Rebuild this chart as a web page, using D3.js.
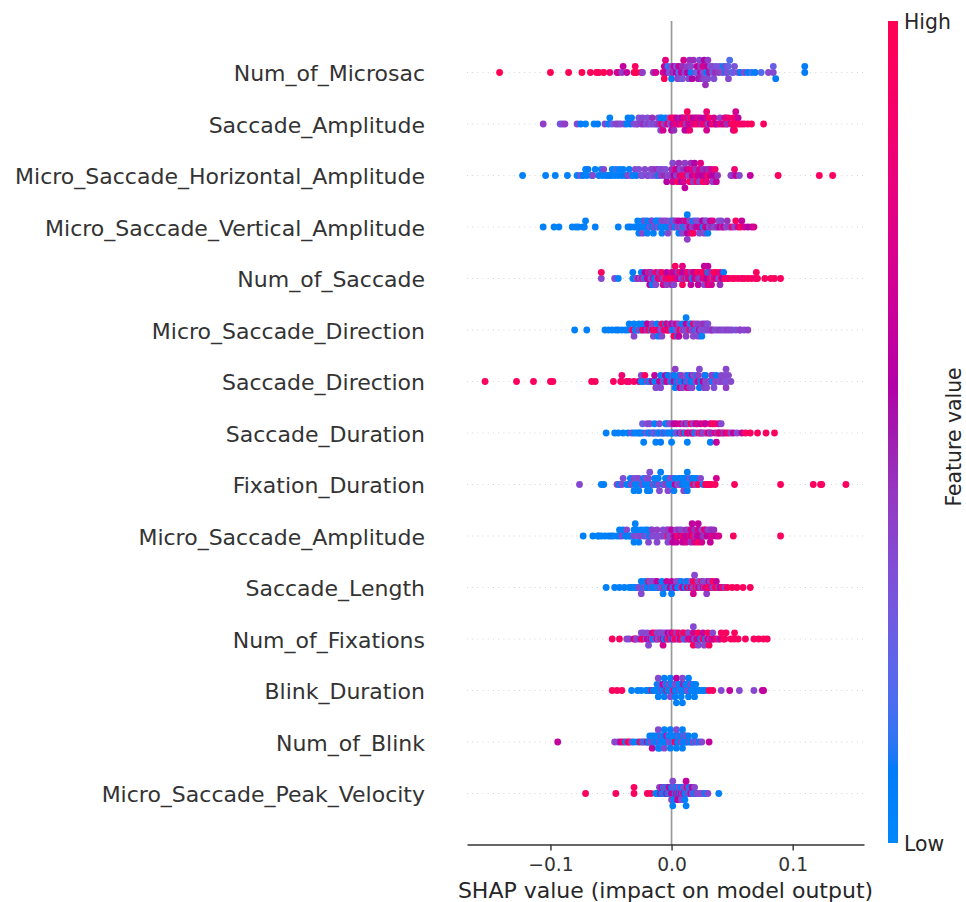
<!DOCTYPE html>
<html>
<head>
<meta charset="utf-8">
<script src="https://cdn.jsdelivr.net/npm/d3@7"></script>
<style>
  html, body { margin: 0; padding: 0; background: #fff; }
  svg { display: block; font-family: "DejaVu Sans", sans-serif; }
</style>
</head>
<body>
<svg id="chart" width="966" height="902"></svg>
<script>
// Features, most important first. Each sample is [SHAP value, normalised feature value 0..1].
const features = [
  "Num_of_Microsac", "Saccade_Amplitude", "Micro_Saccade_Horizontal_Amplitude",
  "Micro_Saccade_Vertical_Amplitude", "Num_of_Saccade", "Micro_Saccade_Direction",
  "Saccade_Direction", "Saccade_Duration", "Fixation_Duration", "Micro_Saccade_Amplitude",
  "Saccade_Length", "Num_of_Fixations", "Blink_Duration", "Num_of_Blink",
  "Micro_Saccade_Peak_Velocity"
];

const numOfMicrosac = [
  [-.142,1],[-.100,1],[-.085,1],[-.074,1],[-.067,.95],[-.062,1],[-.060,.95],[-.056,1],[-.051,.85],[-.045,.62],
  [-.044,.7],[-.041,.4],[-.040,.62],[-.037,.62],[-.031,1],[-.030,.95],[-.029,1],[-.025,.95],[-.024,.4],[-.015,.45],
  [-.013,.7],[-.007,.7],[-.006,.62],[-.006,.95],[-.005,.78],[-.004,.56],[-.003,.12],[-.002,.33],
  [.000,.36],[.000,.08],[.001,.45],[.002,.62],[.004,.56],[.004,.3],[.005,.4],[.006,.2],[.006,.62],[.007,.36],
  [.008,.62],[.009,.45],[.009,.3],[.010,.7],[.011,.36],[.013,.56],[.013,.4],[.014,.36],[.015,.45],[.016,.05],
  [.016,.36],[.017,.56],[.018,.45],[.020,.36],[.021,.25],[.021,.62],[.022,.5],[.023,.36],[.024,.62],[.024,.4],
  [.025,.45],[.026,.33],[.026,.7],[.027,.36],[.027,.56],[.028,.45],[.029,.05],[.029,.62],[.030,.36],[.030,.4],
  [.031,.5],[.032,.3],[.034,.28],[.034,.36],[.035,.33],[.036,.45],[.037,.3],[.039,.4],[.040,.3],[.042,.36],
  [.043,.05],[.045,.08],[.045,.36],[.046,.33],[.047,.25],[.047,.36],[.048,.18],[.050,.15],[.051,.28],[.052,.3],
  [.055,.33],[.057,.08],[.060,.36],[.063,.08],[.066,.12],[.069,.08],[.074,.18],[.080,.36],[.084,.36],[.084,.25],
  [.086,.08],[.110,.08],[.110,.08]
];

const saccadeAmplitude = [
  [-.106,.4],[-.092,.28],[-.090,.36],[-.088,.4],[-.078,.36],[-.075,.08],[-.071,.05],[-.064,.05],[-.061,.08],[-.055,.36],
  [-.052,.05],[-.051,.05],[-.049,.25],[-.046,.36],[-.044,.4],[-.042,.33],[-.039,.36],[-.037,.05],[-.036,.05],[-.034,.08],
  [-.033,.05],[-.031,.36],[-.029,.3],
  [-.028,.36],[-.027,.33],[-.025,.4],[-.024,.36],[-.023,.45],[-.021,.3],[-.020,.33],[-.019,.4],[-.017,.3],[-.016,.45],
  [-.015,.36],[-.013,.28],[-.012,.4],[-.011,.36],[-.010,.45],[-.009,.05],[-.009,.36],[-.008,.95],[-.008,.08],[-.007,.7],
  [-.006,.36],[-.005,.05],[-.004,.45],[-.003,.78],[-.002,.36],[-.001,.33],
  [.000,.95],[.000,.56],[.001,.62],[.002,.95],[.002,.45],[.003,.7],[.004,.62],[.005,.85],[.006,.7],[.007,.5],
  [.008,.78],[.009,.56],[.010,.95],[.010,.7],[.011,.62],[.012,.4],[.012,.78],[.013,.56],[.013,.95],[.014,.7],
  [.015,.45],[.015,.85],[.016,.62],[.016,.95],[.017,.7],[.018,.56],[.019,.78],[.020,.62],[.021,.95],[.022,.7],
  [.023,.85],[.024,.62],[.025,.45],[.026,.78],[.027,.56],[.028,.95],[.028,.62],[.029,.7],[.029,.85],[.030,.4],
  [.031,.95],[.032,.62],[.034,.85],[.035,.7],[.036,.95],[.037,.56],[.039,.7],[.040,.4],[.041,.85],[.043,.56],
  [.044,.78],[.045,.95],[.045,.7],[.046,.45],[.047,.85],[.049,.7],[.050,.95],[.051,.95],[.051,.62],[.052,.95],
  [.052,.85],[.052,.95],[.053,.7],[.054,.95],[.055,.62],[.056,.95],
  [.058,.95],[.060,.85],[.063,.95],[.066,.95],[.076,.95]
];

const microSaccadeHorizontalAmplitude = [
  [-.123,.05],[-.104,.05],[-.096,.05],[-.086,.05],[-.078,.05],[-.075,.33],[-.073,.08],[-.071,.05],[-.070,.05],[-.069,.08],
  [-.066,.05],[-.065,.36],[-.063,.05],[-.060,.08],[-.058,.05],[-.057,.05],[-.056,.36],[-.054,.08],[-.052,.05],[-.050,.08],
  [-.049,.05],[-.047,.05],[-.046,.12],[-.044,.05],[-.043,.05],[-.041,.08],[-.040,.05],[-.038,.08],[-.036,.36],[-.035,.05],
  [-.033,.33],[-.032,.05],[-.030,.36],[-.029,.08],[-.027,.33],[-.025,.36],[-.024,.3],
  [-.022,.36],[-.020,.4],[-.019,.33],[-.017,.36],[-.016,.3],[-.015,.4],[-.013,.36],[-.012,.45],[-.011,.05],[-.010,.33],
  [-.009,.4],[-.008,.36],[-.006,.45],[-.005,.33],[-.004,.56],[-.003,.36],[-.001,.4],
  [.000,.45],[.001,.7],[.001,.36],[.002,.56],[.003,.85],[.004,.4],[.004,.62],[.005,.95],[.006,.45],[.007,.7],
  [.007,.36],[.008,.56],[.009,.95],[.010,.45],[.010,.7],[.011,.4],[.011,.62],[.012,.85],[.013,.56],[.014,.36],
  [.014,.7],[.015,.95],[.016,.45],[.017,.62],[.017,.78],[.018,.4],[.019,.56],[.020,.85],[.020,.45],[.021,.95],
  [.022,.62],[.023,.7],[.023,.36],[.024,.78],[.025,.56],[.026,.45],[.026,.95],[.027,.62],[.029,.5],[.029,.78],
  [.030,.95],[.031,.45],[.032,.62],[.033,.7],[.034,.4],[.035,.56],[.036,.85],[.037,.62],[.038,.45],
  [.049,.36],[.050,.4],[.052,.85],[.053,.62],[.056,.36],[.065,.62],[.088,.95],[.122,.95],[.133,.95]
];

const microSaccadeVerticalAmplitude = [
  [-.106,.05],[-.097,.05],[-.093,.05],[-.082,.05],[-.079,.05],[-.077,.05],[-.073,.08],[-.072,.05],[-.071,.05],[-.063,.05],
  [-.044,.05],[-.036,.05],[-.034,.08],
  [-.031,.05],[-.029,.05],[-.028,.08],[-.028,.05],[-.027,.05],[-.026,.05],[-.025,.08],[-.024,.05],[-.024,.36],[-.023,.05],
  [-.022,.36],[-.021,.05],[-.020,.05],[-.020,.05],[-.019,.08],[-.018,.33],[-.017,.05],[-.016,.05],[-.016,.4],[-.015,.05],
  [-.014,.36],[-.013,.05],[-.012,.08],[-.012,.05],[-.011,.33],[-.010,.05],[-.009,.05],[-.008,.36],[-.008,.05],[-.007,.05],
  [-.006,.4],[-.005,.08],[-.004,.05],[-.004,.36],[-.003,.36],[-.002,.05],[-.001,.33],
  [.000,.36],[.001,.08],[.002,.4],[.002,.33],[.003,.05],[.004,.45],[.005,.36],[.006,.62],[.006,.05],[.007,.4],
  [.008,.33],[.009,.62],[.009,.36],[.010,.05],[.011,.45],[.012,.36],[.012,.7],[.013,.56],[.013,.05],[.013,.4],
  [.014,.33],[.015,.62],[.015,.36],[.016,.78],[.017,.4],[.018,.05],[.018,.95],[.019,.45],[.020,.36],[.021,.56],
  [.022,.62],[.022,.33],[.023,.36],[.024,.7],[.025,.45],[.026,.05],[.026,.56],[.027,.36],[.028,.85],[.028,.4],
  [.029,.62],[.029,.33],[.030,.05],[.031,.36],[.032,.62],[.033,.45],[.034,.7],[.035,.36],
  [.037,.36],[.038,.45],[.039,.33],[.040,.62],[.041,.36],[.042,.4],[.043,.7],[.045,.36],[.046,.45],[.048,.4],
  [.050,.85],[.052,.36],[.053,.95],[.055,.7],[.057,.95],[.058,.62],[.060,.7],[.063,.56],[.066,.62],[.068,.7]
];

const numOfSaccade = [
  [-.058,.36],[-.058,.95],[-.047,.36],[-.044,.05],[-.032,.05],[-.032,.08],[-.030,.05],[-.029,.36],[-.027,.62],[-.026,.33],
  [-.025,.05],[-.024,.7],[-.023,.36],[-.022,.56],[-.021,.05],[-.020,.62],[-.019,.4],[-.018,.7],[-.018,.95],[-.018,.62],
  [-.017,.36],[-.017,.45],[-.016,.05],[-.015,.62],[-.014,.08],[-.013,.85],[-.013,.36],[-.012,.36],[-.011,.78],[-.010,.4],
  [-.009,.95],[-.008,.45],[-.008,.95],[-.007,.7],[-.006,.36],[-.005,.95],[-.004,.56],[-.004,.4],[-.003,.78],[-.002,.85],
  [-.001,.95],
  [.000,.7],[.000,.45],[.002,.95],[.002,.62],[.002,.36],[.003,.95],[.004,.85],[.005,.7],[.005,.45],[.007,.62],
  [.007,.95],[.008,.36],[.009,.56],[.009,.95],[.009,.78],[.010,.45],[.012,.95],[.012,.62],[.013,.36],[.013,.85],
  [.014,.7],[.016,.95],[.016,.45],[.016,.62],[.017,.05],[.018,.95],[.019,.7],[.019,.56],[.021,.78],[.021,.95],
  [.022,.45],[.022,.95],[.022,.62],[.023,.4],[.024,.85],[.026,.7],[.026,.95],[.027,.36],[.027,.62],[.028,.95],
  [.029,.56],[.030,.08],[.030,.78],[.030,.62],[.032,.95],[.032,.45],[.033,.7],[.034,.36],[.035,.85],[.035,.95],
  [.037,.62],[.037,.95],[.038,.7],[.039,.36],[.040,.78],[.040,.45],[.041,.95],[.042,.56],[.043,.08],
  [.044,.95],[.046,.95],[.047,.85],[.050,.95],[.052,.95],[.055,.95],[.058,.85],[.060,.95],[.063,.95],[.066,.95],
  [.069,.85],[.070,.95],[.071,.95],[.077,.95],[.082,.95],[.085,.95],[.090,.95]
];

const microSaccadeDirection = [
  [-.080,.05],[-.070,.05],[-.055,.05],[-.052,.05],[-.049,.05],[-.046,.05],[-.044,.08],[-.041,.05],[-.038,.05],[-.036,.05],
  [-.035,.05],[-.033,.36],[-.032,.95],[-.031,.05],[-.031,.36],[-.030,.05],[-.028,.05],[-.027,.4],[-.027,.05],[-.025,.05],
  [-.024,.95],[-.024,.05],[-.022,.7],[-.021,.05],[-.020,.36],[-.020,.62],[-.019,.95],[-.017,.08],[-.016,.95],[-.016,.36],
  [-.015,.36],[-.014,.85],[-.012,.95],[-.012,.05],[-.011,.05],[-.010,.7],[-.009,.36],[-.008,.95],[-.008,.36],[-.007,.36],
  [-.006,.85],[-.005,.05],[-.004,.95],[-.004,.7],[-.003,.62],[-.002,.95],[-.001,.36],
  [.000,.36],[.000,.62],[.001,.08],[.002,.4],[.002,.95],[.004,.33],[.004,.7],[.005,.05],[.006,.4],[.006,.36],
  [.006,.62],[.007,.95],[.009,.33],[.009,.05],[.010,.45],[.011,.36],[.012,.62],[.012,.4],[.012,.05],[.013,.36],
  [.015,.95],[.015,.33],[.016,.45],[.016,.05],[.017,.36],[.018,.4],[.018,.85],[.018,.36],[.020,.05],[.020,.36],
  [.021,.33],[.022,.4],[.022,.36],[.023,.56],[.024,.33],[.025,.4],[.025,.05],[.027,.36],[.027,.45],[.028,.33],
  [.029,.4],[.030,.36],[.030,.33],[.032,.4],[.033,.36],[.034,.45],[.036,.33],[.038,.36],[.040,.4],
  [.042,.36],[.044,.33],[.046,.4],[.048,.36],[.050,.36],[.053,.33],[.056,.36],[.057,.4],[.060,.36],[.063,.4]
];

const saccadeDirection = [
  [-.154,.95],[-.128,.95],[-.114,.95],[-.100,.95],[-.098,.95],[-.066,.95],[-.063,.95],[-.048,.95],[-.042,.85],[-.041,.95],
  [-.041,.85],[-.037,.95],[-.035,.85],[-.031,.95],[-.027,.7],[-.025,.05],[-.025,.36],[-.023,.05],[-.022,.95],[-.020,.36],
  [-.018,.05],[-.016,.7],[-.014,.05],[-.014,.62],[-.013,.36],[-.011,.05],[-.010,.62],[-.009,.05],[-.009,.36],[-.007,.36],
  [-.005,.05],[-.005,.62],[-.004,.7],[-.003,.08],[-.001,.36],
  [.000,.05],[.001,.36],[.002,.62],[.002,.05],[.003,.05],[.003,.4],[.004,.08],[.006,.36],[.006,.05],[.007,.7],
  [.008,.05],[.008,.4],[.009,.36],[.011,.62],[.012,.05],[.012,.33],[.013,.7],[.014,.36],[.014,.05],[.015,.4],
  [.016,.08],[.017,.62],[.017,.36],[.018,.05],[.018,.33],[.020,.36],[.021,.05],[.022,.7],[.022,.4],[.023,.08],
  [.023,.36],[.024,.05],[.026,.62],[.027,.33],[.027,.4],[.028,.36],[.028,.05],[.029,.36],[.031,.4],[.032,.33],
  [.033,.36],[.034,.05],[.034,.4],[.035,.33],[.036,.36],[.037,.08],[.039,.4],[.040,.33],[.041,.36],[.042,.4],
  [.044,.33],[.044,.36],[.045,.4],[.045,.36],[.046,.33],[.047,.36],[.049,.36]
];

const saccadeDuration = [
  [-.054,.05],[-.047,.05],[-.044,.05],[-.040,.05],[-.036,.05],[-.033,.36],[-.031,.05],[-.029,.05],[-.027,.05],[-.026,.08],
  [-.024,.05],[-.024,.25],[-.023,.05],[-.021,.33],[-.020,.36],[-.019,.05],[-.018,.05],[-.018,.36],[-.016,.36],[-.015,.05],
  [-.014,.33],[-.014,.05],[-.013,.05],[-.012,.05],[-.011,.36],[-.010,.05],[-.010,.36],[-.009,.08],[-.008,.05],[-.007,.36],
  [-.006,.08],[-.005,.05],[-.004,.33],[-.004,.05],[-.003,.05],[-.002,.36],[-.001,.05],
  [.000,.05],[.000,.36],[.000,.05],[.001,.05],[.002,.62],[.003,.05],[.004,.36],[.004,.62],[.006,.05],[.007,.62],
  [.007,.7],[.008,.36],[.010,.95],[.010,.4],[.011,.05],[.012,.62],[.013,.95],[.013,.36],[.013,.05],[.014,.7],
  [.016,.45],[.016,.95],[.017,.62],[.018,.95],[.018,.36],[.019,.05],[.020,.62],[.021,.36],[.021,.7],[.023,.95],
  [.024,.33],[.024,.62],[.025,.85],[.026,.36],[.027,.95],[.028,.4],[.028,.62],[.030,.95],[.031,.62],[.032,.36],
  [.032,.7],[.032,.05],[.033,.45],[.034,.95],[.036,.7],[.036,.95],[.037,.62],[.038,.4],[.039,.95],[.039,.7],
  [.040,.62],[.041,.36],[.042,.95],[.043,.45],
  [.045,.7],[.047,.95],[.049,.36],[.051,.62],[.054,.36],[.058,.62],[.061,.95],[.065,.95],[.071,.95],[.078,.95],[.085,.95]
];

const fixationDuration = [
  [-.076,.36],[-.058,.05],[-.056,.05],[-.045,.36],[-.043,.05],[-.041,.36],[-.040,.33],[-.037,.05],[-.035,.05],[-.034,.05],
  [-.033,.36],[-.031,.36],[-.031,.05],[-.030,.05],[-.029,.33],[-.028,.05],[-.027,.36],[-.027,.05],[-.025,.05],[-.024,.36],
  [-.023,.05],[-.022,.05],[-.021,.33],[-.020,.05],[-.019,.05],[-.019,.36],[-.018,.05],[-.018,.33],[-.017,.05],[-.015,.36],
  [-.014,.05],[-.013,.08],[-.012,.05],[-.011,.36],[-.011,.05],[-.010,.33],[-.009,.05],[-.007,.08],[-.006,.36],[-.005,.05],
  [-.004,.4],[-.003,.05],[-.003,.36],[-.002,.05],[-.001,.33],
  [.000,.05],[.001,.36],[.002,.05],[.003,.62],[.003,.05],[.005,.33],[.006,.05],[.007,.4],[.008,.05],[.009,.08],
  [.010,.05],[.010,.36],[.011,.05],[.012,.05],[.013,.08],[.013,.05],[.014,.05],[.015,.33],[.016,.05],[.017,.08],
  [.018,.95],[.019,.05],[.020,.36],[.021,.05],[.022,.95],[.024,.36],[.026,.05],[.028,.95],[.030,.95],[.031,.95],
  [.033,.95],[.036,.95],[.037,.7],
  [.052,.95],[.090,.95],[.117,.95],[.123,.95],[.124,.95],[.144,.95]
];

const microSaccadeAmplitude = [
  [-.073,.05],[-.065,.05],[-.061,.05],[-.060,.05],[-.058,.05],[-.055,.05],[-.052,.05],[-.050,.08],[-.048,.05],[-.045,.05],
  [-.043,.05],[-.043,.05],[-.041,.36],[-.040,.05],[-.038,.05],[-.037,.05],[-.037,.36],[-.035,.08],[-.034,.05],[-.033,.05],
  [-.031,.36],[-.031,.05],[-.031,.05],[-.030,.05],[-.028,.33],[-.028,.05],[-.027,.05],[-.026,.36],[-.025,.05],[-.023,.36],
  [-.022,.05],[-.021,.05],[-.020,.33],[-.020,.05],[-.019,.36],[-.018,.05],[-.017,.05],[-.016,.36],[-.016,.4],[-.014,.33],
  [-.013,.36],[-.012,.4],[-.012,.36],[-.011,.36],[-.009,.33],[-.008,.36],[-.007,.36],[-.006,.4],[-.005,.36],[-.004,.36],
  [-.003,.95],[-.003,.4],[-.003,.36],[-.002,.36],[-.001,.4],
  [.000,.36],[.000,.62],[.001,.62],[.002,.7],[.003,.56],[.004,.36],[.004,.62],[.005,.95],[.006,.45],[.007,.7],
  [.008,.7],[.008,.36],[.009,.62],[.010,.95],[.011,.62],[.012,.45],[.012,.7],[.013,.62],[.014,.4],[.015,.85],
  [.016,.62],[.016,.7],[.016,.45],[.017,.62],[.018,.95],[.019,.45],[.019,.7],[.020,.36],[.021,.62],[.022,.7],
  [.022,.95],[.022,.62],[.023,.56],[.024,.62],[.025,.36],[.025,.7],[.026,.45],[.027,.95],[.028,.36],[.028,.7],
  [.029,.62],[.030,.4],[.031,.62],[.032,.36],[.032,.62],[.033,.7],[.033,.45],[.034,.7],[.035,.45],[.037,.62],
  [.039,.7],
  [.051,.95],[.090,.95]
];

const saccadeLength = [
  [-.054,.05],[-.047,.05],[-.043,.05],[-.039,.05],[-.035,.05],[-.033,.05],[-.031,.05],[-.029,.05],[-.027,.36],[-.026,.36],
  [-.025,.05],[-.025,.36],[-.023,.05],[-.022,.36],[-.022,.05],[-.021,.33],[-.020,.05],[-.019,.95],[-.018,.05],[-.018,.36],
  [-.017,.36],[-.016,.05],[-.016,.36],[-.015,.05],[-.014,.05],[-.013,.36],[-.012,.05],[-.012,.62],[-.011,.33],[-.010,.05],
  [-.009,.36],[-.008,.36],[-.008,.05],[-.007,.05],[-.006,.4],[-.005,.05],[-.004,.05],[-.004,.62],[-.003,.36],[-.002,.05],
  [-.001,.62],
  [.000,.62],[.000,.05],[.001,.36],[.002,.05],[.003,.62],[.004,.62],[.004,.36],[.005,.05],[.006,.36],[.008,.33],
  [.008,.05],[.009,.7],[.010,.62],[.011,.05],[.012,.36],[.013,.7],[.013,.05],[.014,.95],[.015,.05],[.016,.62],
  [.016,.33],[.017,.95],[.018,.36],[.018,.95],[.018,.7],[.019,.36],[.020,.95],[.021,.4],[.022,.95],[.022,.36],
  [.023,.62],[.024,.36],[.025,.95],[.026,.7],[.026,.36],[.027,.4],[.028,.95],[.029,.62],[.029,.36],[.029,.4],
  [.030,.95],[.031,.62],[.032,.95],[.032,.36],[.033,.7],[.034,.4],[.034,.95],[.035,.36],[.036,.95],[.037,.62],
  [.038,.95],[.039,.36],[.040,.62],
  [.042,.95],[.044,.4],[.046,.95],[.050,.95],[.054,.95],[.059,.95],[.065,.95]
];

const numOfFixations = [
  [-.049,.95],[-.043,.95],[-.037,.36],[-.035,.36],[-.031,.62],[-.030,.95],[-.029,.36],[-.027,.4],[-.025,.62],[-.025,.36],
  [-.024,.95],[-.023,.36],[-.021,.33],[-.020,.62],[-.020,.36],[-.019,.36],[-.018,.4],[-.017,.62],[-.016,.36],[-.016,.7],
  [-.015,.05],[-.014,.95],[-.013,.36],[-.012,.7],[-.012,.36],[-.011,.33],[-.010,.4],[-.009,.95],[-.009,.36],[-.008,.36],
  [-.007,.62],[-.007,.36],[-.007,.7],[-.006,.05],[-.005,.36],[-.004,.7],[-.003,.4],[-.003,.62],[-.002,.95],[-.001,.36],
  [.000,.05],[.000,.62],[.001,.62],[.002,.36],[.002,.95],[.003,.95],[.004,.4],[.005,.95],[.006,.36],[.006,.95],
  [.007,.62],[.008,.95],[.009,.4],[.010,.33],[.010,.95],[.011,.05],[.012,.4],[.013,.95],[.014,.7],[.014,.36],
  [.015,.62],[.016,.95],[.017,.62],[.018,.7],[.018,.95],[.018,.36],[.019,.36],[.020,.4],[.021,.7],[.022,.95],
  [.022,.36],[.023,.62],[.024,.05],[.025,.36],[.026,.95],[.026,.62],[.027,.36],[.028,.05],[.029,.4],[.030,.7],
  [.030,.95],[.031,.95],[.032,.36],[.033,.62],[.034,.95],[.034,.36],[.035,.62],[.037,.95],[.039,.4],[.040,.7],
  [.041,.95],[.043,.95],[.044,.95],[.045,.95],
  [.049,.95],[.052,.95],[.052,.95],[.055,.95],[.061,.95],[.068,.95],[.072,.95],[.076,.95],[.079,.95]
];

const blinkDuration = [
  [-.049,.95],[-.045,.95],[-.041,.95],[-.033,.05],[-.028,.05],[-.025,.05],[-.021,.05],[-.019,.05],[-.018,.05],[-.016,.95],
  [-.015,.05],[-.014,.05],[-.013,.05],[-.012,.05],[-.012,.05],[-.011,.05],[-.011,.36],[-.010,.05],[-.009,.05],[-.009,.36],
  [-.008,.36],[-.008,.05],[-.007,.05],[-.007,.62],[-.006,.05],[-.006,.05],[-.005,.05],[-.005,.36],[-.004,.95],[-.004,.05],
  [-.003,.05],[-.003,.05],[-.002,.05],[-.002,.36],[-.001,.36],[-.001,.05],
  [.000,.05],[.000,.05],[.001,.36],[.001,.05],[.002,.95],[.002,.05],[.003,.05],[.003,.36],[.003,.05],[.004,.62],
  [.004,.05],[.005,.05],[.005,.36],[.006,.05],[.006,.05],[.007,.33],[.007,.05],[.008,.05],[.008,.05],[.008,.05],
  [.009,.36],[.009,.05],[.010,.05],[.010,.62],[.011,.05],[.011,.4],[.012,.05],[.012,.05],[.013,.33],[.013,.05],
  [.014,.05],[.014,.05],[.015,.36],[.015,.05],[.016,.05],[.016,.36],[.017,.05],[.018,.05],[.018,.05],[.019,.05],
  [.020,.05],[.020,.05],[.022,.05],[.024,.05],[.026,.05],[.028,.05],
  [.031,.95],[.034,.95],[.041,.36],[.048,.62],[.056,.36],[.068,.36],[.075,.62],[.076,.62]
];

const numOfBlink = [
  [-.094,.62],[-.047,.36],[-.044,.36],[-.042,.62],[-.040,.95],[-.038,.05],[-.036,.95],[-.035,.95],[-.033,.36],[-.031,.05],
  [-.028,.05],[-.026,.95],[-.024,.05],[-.023,.36],[-.021,.05],[-.020,.62],[-.019,.05],[-.018,.05],[-.018,.05],[-.017,.36],
  [-.016,.05],[-.016,.62],[-.015,.05],[-.014,.36],[-.014,.05],[-.013,.05],[-.012,.05],[-.012,.05],[-.011,.05],[-.011,.36],
  [-.010,.36],[-.010,.05],[-.010,.05],[-.009,.05],[-.009,.05],[-.008,.05],[-.008,.36],[-.007,.05],[-.007,.05],[-.006,.36],
  [-.006,.05],[-.005,.05],[-.005,.05],[-.004,.05],[-.004,.62],[-.003,.05],[-.003,.36],[-.002,.36],[-.002,.05],[-.001,.05],
  [-.001,.05],
  [.000,.36],[.000,.05],[.001,.05],[.001,.05],[.002,.36],[.002,.05],[.003,.95],[.003,.05],[.004,.05],[.004,.36],
  [.005,.05],[.005,.05],[.006,.05],[.006,.36],[.007,.05],[.007,.05],[.008,.36],[.008,.05],[.009,.05],[.009,.05],
  [.010,.05],[.010,.36],[.011,.05],[.011,.05],[.012,.05],[.012,.36],[.013,.05],[.014,.05],[.015,.36],[.016,.05],
  [.017,.05],[.018,.36],[.019,.05],[.020,.05],[.021,.36],[.023,.05],[.025,.36],[.031,.62]
];

const microSaccadePeakVelocity = [
  [-.071,.95],[-.046,.95],[-.031,.95],[-.031,.95],[-.020,.95],[-.017,.95],[-.013,.05],[-.012,.05],[-.011,.05],[-.010,.36],
  [-.009,.62],[-.008,.05],[-.008,.62],[-.007,.05],[-.007,.36],[-.006,.36],[-.006,.05],[-.005,.05],[-.005,.36],[-.004,.62],
  [-.004,.36],[-.003,.05],[-.003,.05],[-.002,.36],[-.002,.62],[-.001,.05],[-.001,.62],
  [.000,.62],[.000,.05],[.000,.36],[.001,.36],[.001,.05],[.002,.62],[.002,.36],[.002,.05],[.003,.05],[.003,.36],
  [.004,.62],[.004,.05],[.005,.36],[.005,.05],[.005,.62],[.006,.62],[.006,.36],[.007,.05],[.007,.36],[.008,.62],
  [.008,.05],[.008,.36],[.009,.36],[.009,.05],[.010,.62],[.010,.36],[.011,.05],[.011,.36],[.011,.05],[.012,.62],
  [.012,.05],[.013,.36],[.013,.62],[.014,.05],[.014,.36],[.015,.36],[.015,.05],[.016,.62],[.017,.36],[.017,.62],
  [.018,.05],[.019,.36],[.019,.36],[.020,.05],[.021,.36],[.022,.36],[.024,.36],[.026,.36],[.028,.05],[.030,.36],
  [.039,.05]
];

const featureData = [
  numOfMicrosac, saccadeAmplitude, microSaccadeHorizontalAmplitude, microSaccadeVerticalAmplitude,
  numOfSaccade, microSaccadeDirection, saccadeDirection, saccadeDuration, fixationDuration,
  microSaccadeAmplitude, saccadeLength, numOfFixations, blinkDuration, numOfBlink, microSaccadePeakVelocity
];

const xTicks = [-0.1, 0, 0.1];
const xTickLabels = ["\u22120.1", "0.0", "0.1"];
const colorTicks = [0, 1];
const colorTickLabels = ["Low", "High"];
const xTitle = "SHAP value (impact on model output)";
const colorTitle = "Feature value";

// ---- layout ----
const svg = d3.select("#chart");
const plot = { left: 467, right: 864, top: 21, bottom: 845 };
const nF = features.length;

const allShap = featureData.flat().map(d => d[0]);
const [lo, hi] = d3.extent(allShap);
const margin = (hi - lo) * 0.05;
const x = d3.scaleLinear().domain([lo - margin, hi + margin]).range([plot.left, plot.right]);
const y = d3.scaleLinear().domain([-1, nF]).range([plot.bottom, plot.top]);

// perceptual blue -> purple -> red ramp in LCh space
const blueLch = [54, 70, 266.93], redLch = [54, 90, 380.32], lMid = 40;
const lchRamp = t => {
  const l = t < 0.5 ? blueLch[0] + (lMid - blueLch[0]) * (t / 0.5)
                    : lMid + (redLch[0] - lMid) * ((t - 0.5) / 0.5);
  const c = blueLch[1] + (redLch[1] - blueLch[1]) * t;
  const h = blueLch[2] + (redLch[2] - blueLch[2]) * t;
  return d3.hcl(h, c, l).formatHex();
};
const color = d3.scaleSequential(lchRamp).domain([0, 1]).clamp(true);

// vertical jitter: stack points that share a value bin alternately above and below the row
function swarmOffsets(values, rowHeight) {
  const n = values.length, nbins = 100;
  const [mn, mx] = d3.extent(values);
  const quant = values.map(v => Math.round(nbins * (v - mn) / (mx - mn + 1e-8)));
  const order = d3.range(n).sort((a, b) => quant[a] - quant[b] || a - b);
  const ys = new Array(n).fill(0);
  let layer = 0, last = -1;
  for (const i of order) {
    if (quant[i] !== last) layer = 0;
    ys[i] = Math.ceil(layer / 2) * ((layer % 2) * 2 - 1);
    layer++;
    last = quant[i];
  }
  const top = d3.max(ys, v => v + 1);
  return ys.map(v => v * 0.9 * (rowHeight / top));
}

// zero line
svg.append("line")
  .attr("x1", x(0)).attr("x2", x(0))
  .attr("y1", plot.top).attr("y2", plot.bottom)
  .attr("stroke", "#999999").attr("stroke-width", 1.7);

// dotted row guides
svg.append("g").selectAll("line")
  .data(features)
  .join("line")
  .attr("x1", plot.left).attr("x2", plot.right)
  .attr("y1", (d, i) => y(nF - 1 - i)).attr("y2", (d, i) => y(nF - 1 - i))
  .attr("stroke", "#cccccc").attr("stroke-width", 0.9)
  .attr("stroke-dasharray", "0.9,4.3");

// points, bottom row first
const dots = svg.append("g");
for (let pos = 0; pos < nF; pos++) {
  const i = nF - 1 - pos;
  const rows = featureData[i];
  const off = swarmOffsets(rows.map(d => d[0]), 0.4);
  dots.append("g").selectAll("circle")
    .data(rows.map((d, k) => ({ shap: d[0], val: d[1], dy: off[k] })))
    .join("circle")
    .attr("cx", d => x(d.shap))
    .attr("cy", d => y(pos + d.dy))
    .attr("r", 3.4)
    .attr("fill", d => color(d.val));
}

// feature labels
svg.append("g").selectAll("text")
  .data(features)
  .join("text")
  .attr("x", 425)
  .attr("y", (d, i) => y(nF - 1 - i) + 8.5)
  .attr("text-anchor", "end")
  .attr("font-size", 22)
  .attr("fill", "#333333")
  .text(d => d);

// x axis
const xAxis = d3.axisBottom(x)
  .tickValues(xTicks)
  .tickFormat((d, i) => xTickLabels[i])
  .tickSize(6)
  .tickSizeOuter(0)
  .tickPadding(7.7);
const gx = svg.append("g")
  .attr("transform", `translate(0,${plot.bottom - 0.5})`)
  .call(xAxis);
gx.select(".domain").attr("stroke", "#333333").attr("stroke-width", 1.4);
gx.selectAll(".tick line").attr("stroke", "#333333").attr("stroke-width", 1.4);
gx.selectAll(".tick text")
  .attr("font-size", 18.7)
  .attr("font-family", "DejaVu Sans, sans-serif")
  .attr("fill", "#333333");

svg.append("text")
  .attr("x", (plot.left + plot.right) / 2)
  .attr("y", 897.5)
  .attr("text-anchor", "middle")
  .attr("font-size", 22)
  .attr("fill", "#262626")
  .text(xTitle);

// colour bar
const cbar = { x: 888, w: 10, top: 21, bottom: 843 };
const cy = d3.scaleLinear().domain([0, 1]).range([cbar.bottom, cbar.top]);
const grad = svg.append("defs").append("linearGradient")
  .attr("id", "cbarGrad")
  .attr("x1", 0).attr("y1", 1).attr("x2", 0).attr("y2", 0);
grad.selectAll("stop")
  .data(d3.range(0, 1.0001, 0.01))
  .join("stop")
  .attr("offset", d => d)
  .attr("stop-color", d => color(d));
svg.append("rect")
  .attr("x", cbar.x).attr("y", cbar.top)
  .attr("width", cbar.w).attr("height", cbar.bottom - cbar.top)
  .attr("fill", "url(#cbarGrad)");

svg.append("g").selectAll("text")
  .data(colorTicks)
  .join("text")
  .attr("x", 904)
  .attr("y", d => cy(d) + 7.8)
  .attr("font-size", 20.4)
  .attr("fill", "#262626")
  .text((d, i) => colorTickLabels[i]);

svg.append("text")
  .attr("transform", `translate(961,${(cbar.top + cbar.bottom) / 2 + 5}) rotate(-90)`)
  .attr("text-anchor", "middle")
  .attr("font-size", 20.4)
  .attr("fill", "#262626")
  .text(colorTitle);
</script>
</body>
</html>
